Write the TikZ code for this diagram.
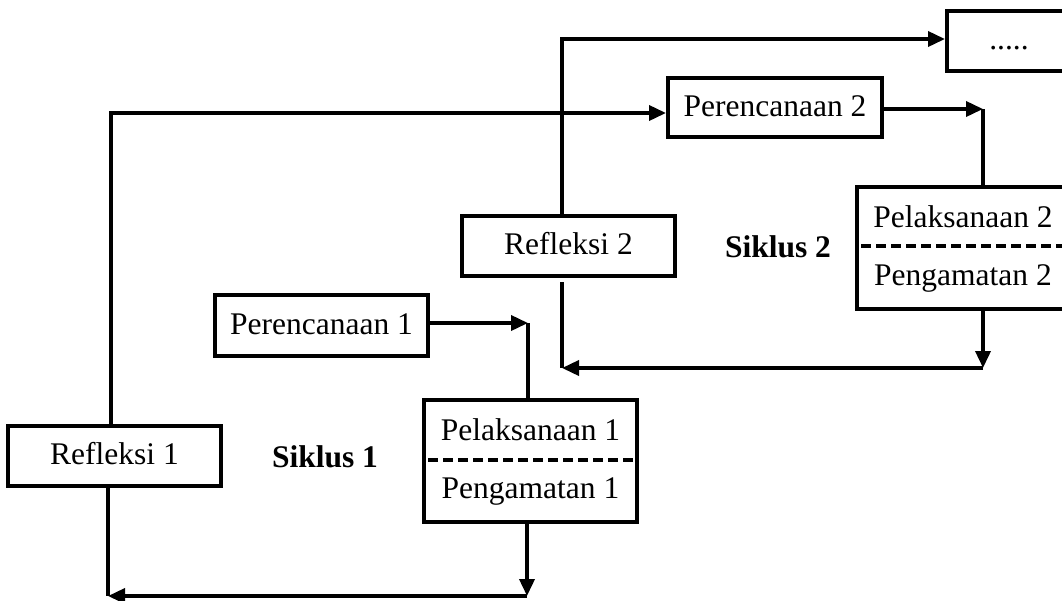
\documentclass[tikz,border=0pt]{standalone}
\usepackage{fontspec}
\setmainfont{Liberation Serif}
\usetikzlibrary{arrows.meta}
\begin{document}
\begin{tikzpicture}[x=1pt,y=-1pt,
  box/.style={draw,line width=4pt,rectangle,inner sep=0pt,minimum width=213pt,minimum height=60pt,
    font=\fontsize{31.5}{38}\selectfont,text height=23.6pt,text depth=6.3pt},
  txt/.style={inner sep=0pt,anchor=base,font=\fontsize{31.5}{38}\selectfont},
  btxt/.style={inner sep=0pt,anchor=base,font=\fontsize{31.5}{38}\selectfont\bfseries},
  conn/.style={line width=3.6pt,line join=miter},
  arr/.style={conn,-{Triangle[length=17pt,width=15pt]}},
  dashline/.style={line width=4.5pt,dash pattern=on 10pt off 5pt}]
\useasboundingbox (0,0) rectangle (1062,600);
% boxes
\node[box,minimum width=124pt] (dots) at (1009,41) {.....};
\node[box,minimum width=214pt,minimum height=59pt] (per2) at (775,107.5) {Perencanaan 2};
\node[box,minimum width=214pt,minimum height=122pt] (pel2) at (964,248) {};
\node[box] (ref2) at (568.5,246) {Refleksi 2};
\node[box,minimum height=61pt] (per1) at (321.5,325.5) {Perencanaan 1};
\node[box,minimum height=122pt] (pel1) at (530.5,461) {};
\node[box] (ref1) at (114.5,456) {Refleksi 1};
% texts inside split boxes
\node[txt] (pel1a) at (530.5,440) {Pelaksanaan 1};
\node[txt] (pel1b) at (530.5,498) {Pengamatan 1};
\node[txt] (pel2a) at (963,227) {Pelaksanaan 2};
\node[txt] (pel2b) at (963,285) {Pengamatan 2};
\draw[dashline] (428,460) -- (634,460);
\draw[dashline] (861,246) -- (1070,246);
% cycle labels
\node[btxt] (s1) at (325,467) {Siklus 1};
\node[btxt] (s2) at (778,257) {Siklus 2};
% corner coordinates
\coordinate (k1) at (111,113);
\coordinate (k2) at (983,109);
\coordinate (k3) at (983,368);
\coordinate (k4) at (562,368);
\coordinate (k4t) at (562,282);
\coordinate (k5) at (562,39);
\coordinate (k6) at (528,323);
\coordinate (k7) at (527,596);
\coordinate (k8) at (108,596);
% connectors
\draw[arr] (ref1.north -| k1) -- (k1) -- (k1 -| per2.west);
\draw[arr] (per2.east |- k2) -- (k2);
\draw[conn] (k2) -- (k2 |- pel2.north);
\draw[arr] (k3 |- pel2.south) -- (k3);
\draw[arr] (k3) -- (k4);
\draw[conn] (k4t) -- (k4);
\draw[arr] (k5 |- ref2.north) -- (k5) -- (k5 -| dots.west);
\draw[arr] (per1.east |- k6) -- (k6);
\draw[conn] (k6) -- (k6 |- pel1.north);
\draw[arr] (k7 |- pel1.south) -- (k7);
\draw[arr] (k7) -- (k8);
\draw[conn] (ref1.south -| k8) -- (k8);
\end{tikzpicture}
\end{document}
